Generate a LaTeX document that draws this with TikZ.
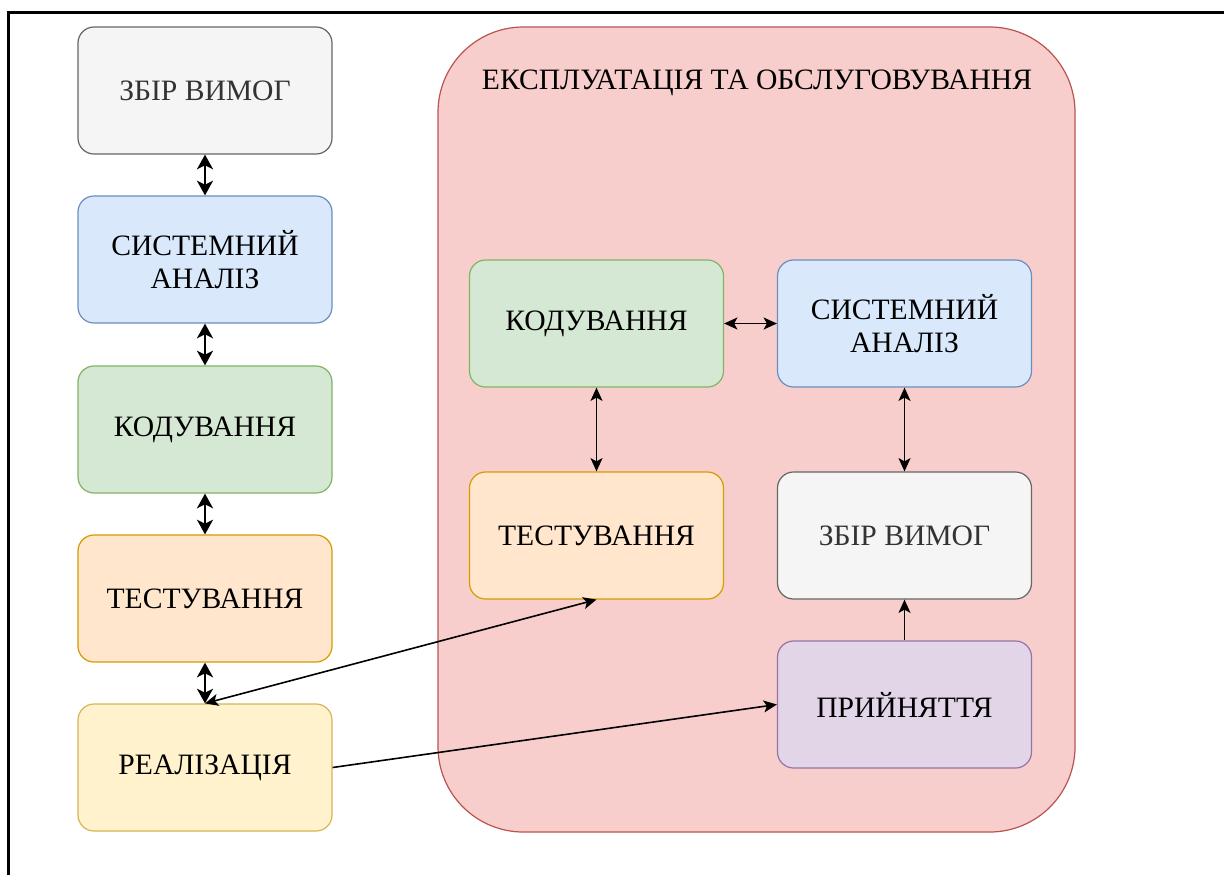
\documentclass[tikz,border=0pt]{standalone}
\usepackage{fontspec}
\setmainfont{Liberation Serif}
\usetikzlibrary{arrows.meta}
\definecolor{grayFill}{HTML}{F5F5F5}\definecolor{grayLine}{HTML}{666666}
\definecolor{blueFill}{HTML}{DAE8FC}\definecolor{blueLine}{HTML}{6C8EBF}
\definecolor{greenFill}{HTML}{D5E8D4}\definecolor{greenLine}{HTML}{82B366}
\definecolor{orangeFill}{HTML}{FFE6CC}\definecolor{orangeLine}{HTML}{D79B00}
\definecolor{yellowFill}{HTML}{FFF2CC}\definecolor{yellowLine}{HTML}{D6B656}
\definecolor{redFill}{HTML}{F8CECC}\definecolor{redLine}{HTML}{B85450}
\definecolor{purpleFill}{HTML}{E1D5E7}\definecolor{purpleLine}{HTML}{9673A6}
\definecolor{darkText}{HTML}{333333}
\begin{document}
\begin{tikzpicture}[x=0.75pt,y=-0.75pt,
  every node/.style={font=\fontsize{22.2}{24.5}\selectfont, align=center},
  stage/.style={draw, line width=0.9pt, rounded corners=12pt,
    minimum width=190.5pt, minimum height=95.25pt, inner sep=0pt},
  gray stage/.style={stage, fill=grayFill, draw=grayLine, text=darkText},
  blue stage/.style={stage, fill=blueFill, draw=blueLine},
  green stage/.style={stage, fill=greenFill, draw=greenLine},
  orange stage/.style={stage, fill=orangeFill, draw=orangeLine},
  yellow stage/.style={stage, fill=yellowFill, draw=yellowLine},
  purple stage/.style={stage, fill=purpleFill, draw=purpleLine},
  link/.style={line width=1.2pt, -{Stealth[length=10pt,width=9pt,inset=2.5pt]}},
  twoway/.style={line width=1.2pt, {Stealth[length=10pt,width=9pt,inset=2.5pt]}-{Stealth[length=10pt,width=9pt,inset=2.5pt]}},
  bold twoway/.style={line width=2pt, {Stealth[length=11pt,width=12pt,inset=3pt]}-{Stealth[length=11pt,width=12pt,inset=3pt]}}
]
\useasboundingbox (0,0) rectangle (1224,875);
\fill[white] (0,0) rectangle (1224,875);
% frame edges
\draw[line width=1.6pt] (8.5,875) -- (8.5,12.5) -- (1224,12.5);

% operation and maintenance area
\node (ops) [draw=redLine, fill=redFill, line width=0.9pt, rounded corners=64pt,
  minimum width=477.75pt, minimum height=603.75pt] at (756.5,429.5) {};
\node (opsTitle) at (757,83) {ЕКСПЛУАТАЦІЯ ТА ОБСЛУГОВУВАННЯ};

% left column: sequential stages
\node (req)  [gray stage]   at (205,90.5)  {ЗБІР ВИМОГ};
\node (ana)  [blue stage]   at (205,259.5) {СИСТЕМНИЙ\\АНАЛІЗ};
\node (code) [green stage]  at (205,429.5) {КОДУВАННЯ};
\node (test) [orange stage] at (205,598.5) {ТЕСТУВАННЯ};
\node (rel)  [yellow stage] at (205,767.5) {РЕАЛІЗАЦІЯ};

% stages inside the maintenance loop
\node (codeB) [green stage]  at (596.5,323.5) {КОДУВАННЯ};
\node (anaB)  [blue stage]   at (904.5,323.5) {СИСТЕМНИЙ\\АНАЛІЗ};
\node (testB) [orange stage] at (596.5,535.5) {ТЕСТУВАННЯ};
\node (reqB)  [gray stage]   at (904.5,535.5) {ЗБІР ВИМОГ};
\node (acc)   [purple stage] at (904.5,704.5) {ПРИЙНЯТТЯ};

% connectors
\draw[bold twoway] (req) -- (ana);
\draw[bold twoway] (ana) -- (code);
\draw[bold twoway] (code) -- (test);
\draw[bold twoway] (test) -- (rel);

\draw[twoway] (codeB) -- (anaB);
\draw[twoway] (codeB) -- (testB);
\draw[twoway] (anaB) -- (reqB);
\draw[link] (acc) -- (reqB);
\draw[twoway] (rel.north) -- (testB.south);
\draw[link] (rel.east) -- (acc.west);
\end{tikzpicture}
\end{document}
